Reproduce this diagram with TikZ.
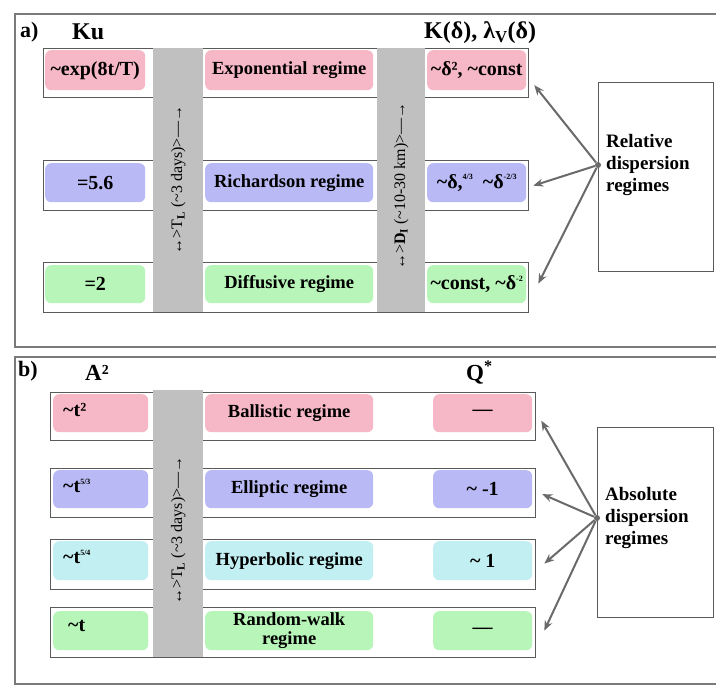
\documentclass[tikz,border=0pt]{standalone}
\usepackage{fontspec}
\setmainfont{Liberation Serif}
\usetikzlibrary{arrows.meta}
\definecolor{pinkc}{HTML}{F6B8C6}
\definecolor{bluec}{HTML}{B9B9F5}
\definecolor{cyanc}{HTML}{C2F0F2}
\definecolor{greenc}{HTML}{B8F5B8}
\definecolor{barc}{HTML}{C0C0C0}
\definecolor{framec}{HTML}{7A7A7A}
\definecolor{rowc}{HTML}{5A5A5A}
\definecolor{arrc}{HTML}{6A6A6A}
\newcommand\myfs[1]{\fontsize{#1}{#1}\selectfont}
\newcommand\sq[1]{\raisebox{0.9ex}{\myfs{8}#1}}
\begin{document}
\begin{tikzpicture}[x=1pt,y=-1pt,
  frame/.style={draw=framec, line width=1.5pt},
  rowbox/.style={draw=rowc, line width=1.3pt, inner sep=0, anchor=north west},
  cb/.style={rounded corners=6pt, inner sep=0, anchor=north west, font=\myfs{20}\bfseries},
  mb/.style={cb, font=\myfs{18.5}\bfseries},
  bar/.style={fill=barc, draw=none, inner sep=0, anchor=north west},
  vtxt/.style={rotate=90, font=\myfs{16}, inner sep=0},
  head/.style={font=\myfs{24}\bfseries, inner sep=0},
  sidebox/.style={draw=rowc, line width=1.2pt, inner sep=0, anchor=north west, fill=white},
  sidetxt/.style={font=\myfs{19}\bfseries, align=left, inner sep=0, anchor=west},
  arr/.style={draw=arrc, line width=2pt, -{Stealth[length=10pt,width=8pt]}},
  dot/.style={circle, fill=arrc, inner sep=0, minimum size=6pt}
]
\useasboundingbox (0,0) rectangle (716,687);
\fill[white] (0,0) rectangle (716,687);

% ---------------- panel a ----------------
\draw[frame] (15,14) rectangle (718,347);
\node[head, anchor=west, font=\myfs{22}\bfseries] (alab) at (20,32) {a)};
\node[head, anchor=west] (ku) at (72,32) {Ku};
\node[head, anchor=west] (kd) at (424,33) {K(δ), λ\textsubscript{V}(δ)};

\node[rowbox, minimum width=485, minimum height=49] (ra1) at (43,48) {};
\node[rowbox, minimum width=485, minimum height=50] (ra2) at (43,160) {};
\node[rowbox, minimum width=485, minimum height=50] (ra3) at (43,262) {};

\node[cb, fill=pinkc, minimum width=100, minimum height=40] (al1) at (45,50) {\textasciitilde exp(8t/T)};
\node[cb, fill=bluec, minimum width=100, minimum height=39] (al2) at (45,163) {=5.6};
\node[cb, fill=greenc, minimum width=100, minimum height=38] (al3) at (45,265) {=2};

\node[mb, fill=pinkc, minimum width=168, minimum height=40] (am1) at (205,50) {Exponential regime};
\node[mb, fill=bluec, minimum width=168, minimum height=39] (am2) at (205,163) {Richardson regime};
\node[mb, fill=greenc, minimum width=168, minimum height=38] (am3) at (205,265) {Diffusive regime};

\node[cb, fill=pinkc, minimum width=99, minimum height=40] (ar1) at (427,50) {\textasciitilde δ², \textasciitilde const};
\node[cb, fill=bluec, minimum width=99, minimum height=39] (ar2) at (427,163) {\textasciitilde δ,\sq{4/3}\ \ \textasciitilde δ\sq{-2/3}};
\node[cb, fill=greenc, minimum width=99, minimum height=38] (ar3) at (427,265) {\textasciitilde const, \textasciitilde δ\sq{-2}};

\node[bar, minimum width=50, minimum height=264] (bara1) at (153,48) {};
\node[bar, minimum width=48, minimum height=264] (bara2) at (377,48) {};
\node[vtxt] (ta1) at (bara1.center) {↔>T\textsubscript{\textbf{L}} (\textasciitilde3 days)>—→};
\node[vtxt] (ta2) at ([yshift=-6pt]bara2.center) {↔>\textbf{D}\textsubscript{\textbf{I}} (\textasciitilde10-30 km)>—→};

\node[sidebox, minimum width=115, minimum height=189] (sa) at (598,82) {};
\node[sidetxt] (sat) at (606,165) {Relative\\[3pt]dispersion\\[3pt]regimes};
\node[dot] (da) at (598,165) {};
\draw[arr] (da) -- ([xshift=5pt,yshift=-12pt]ra1.east);
\draw[arr] (da) -- ([xshift=4pt]ra2.east);
\draw[arr] (da) -- ([xshift=9pt,yshift=4pt]ra3.east);

% ---------------- panel b ----------------
\draw[frame] (15,357) rectangle (718,684);
\node[head, anchor=west, font=\myfs{22}\bfseries] (blab) at (18,371) {b)};
\node[head, anchor=west, font=\myfs{23}\bfseries] (a2) at (85,373) {A²};
\node[head, anchor=west, font=\myfs{23}\bfseries] (qs) at (466,373) {Q\textsuperscript{*}};

\node[rowbox, minimum width=485, minimum height=48] (rb1) at (50,392) {};
\node[rowbox, minimum width=485, minimum height=49] (rb2) at (50,468) {};
\node[rowbox, minimum width=485, minimum height=50] (rb3) at (50,539) {};
\node[rowbox, minimum width=485, minimum height=50] (rb4) at (50,607) {};

\node[cb, fill=pinkc, minimum width=95, minimum height=38] (bl1) at (53,394) {};
\node[cb, fill=bluec, minimum width=95, minimum height=38] (bl2) at (53,470) {};
\node[cb, fill=cyanc, minimum width=95, minimum height=39] (bl3) at (53,541) {};
\node[cb, fill=greenc, minimum width=95, minimum height=39] (bl4) at (53,611) {};
\node[font=\myfs{20}\bfseries, anchor=west, inner sep=0] (tb1) at (63,410) {\textasciitilde t²};
\node[font=\myfs{20}\bfseries, anchor=west, inner sep=0] (tb2) at (63,486) {\textasciitilde t\sq{5/3}};
\node[font=\myfs{20}\bfseries, anchor=west, inner sep=0] (tb3) at (63,557) {\textasciitilde t\sq{5/4}};
\node[font=\myfs{20}\bfseries, anchor=west, inner sep=0] (tb4) at (68,626) {\textasciitilde t};

\node[mb, fill=pinkc, minimum width=168, minimum height=38] (bm1) at (205,394) {Ballistic regime};
\node[mb, fill=bluec, minimum width=168, minimum height=38] (bm2) at (205,470) {Elliptic regime};
\node[mb, fill=cyanc, minimum width=168, minimum height=39] (bm3) at (205,541) {Hyperbolic regime};
\node[mb, fill=greenc, minimum width=168, minimum height=39, align=center] (bm4) at (205,611) {Random-walk\\[1pt]regime};

\node[cb, fill=pinkc, minimum width=99, minimum height=38] (br1) at (433,394) {—};
\node[cb, fill=bluec, minimum width=99, minimum height=38] (br2) at (433,470) {\textasciitilde\ -1};
\node[cb, fill=cyanc, minimum width=99, minimum height=39] (br3) at (433,541) {\textasciitilde\ 1};
\node[cb, fill=greenc, minimum width=99, minimum height=39] (br4) at (433,611) {—};

\node[bar, minimum width=50, minimum height=267] (barb) at (153,390) {};
\node[vtxt] (tb) at ([yshift=-7pt]barb.center) {↔>T\textsubscript{\textbf{L}} (\textasciitilde3 days)>—→};

\node[sidebox, minimum width=116, minimum height=190] (sb) at (597,427) {};
\node[sidetxt] (sbt) at (605,518) {Absolute\\[3pt]dispersion\\[3pt]regimes};
\node[dot] (db) at (597,518) {};
\draw[arr] (db) -- ([xshift=5pt,yshift=-4pt]rb1.east);
\draw[arr] (db) -- ([xshift=6pt,yshift=-1pt]rb2.east);
\draw[arr] (db) -- ([xshift=8pt,yshift=1pt]rb3.east);
\draw[arr] (db) -- ([xshift=8pt,yshift=2pt]rb4.east);
\end{tikzpicture}
\end{document}
